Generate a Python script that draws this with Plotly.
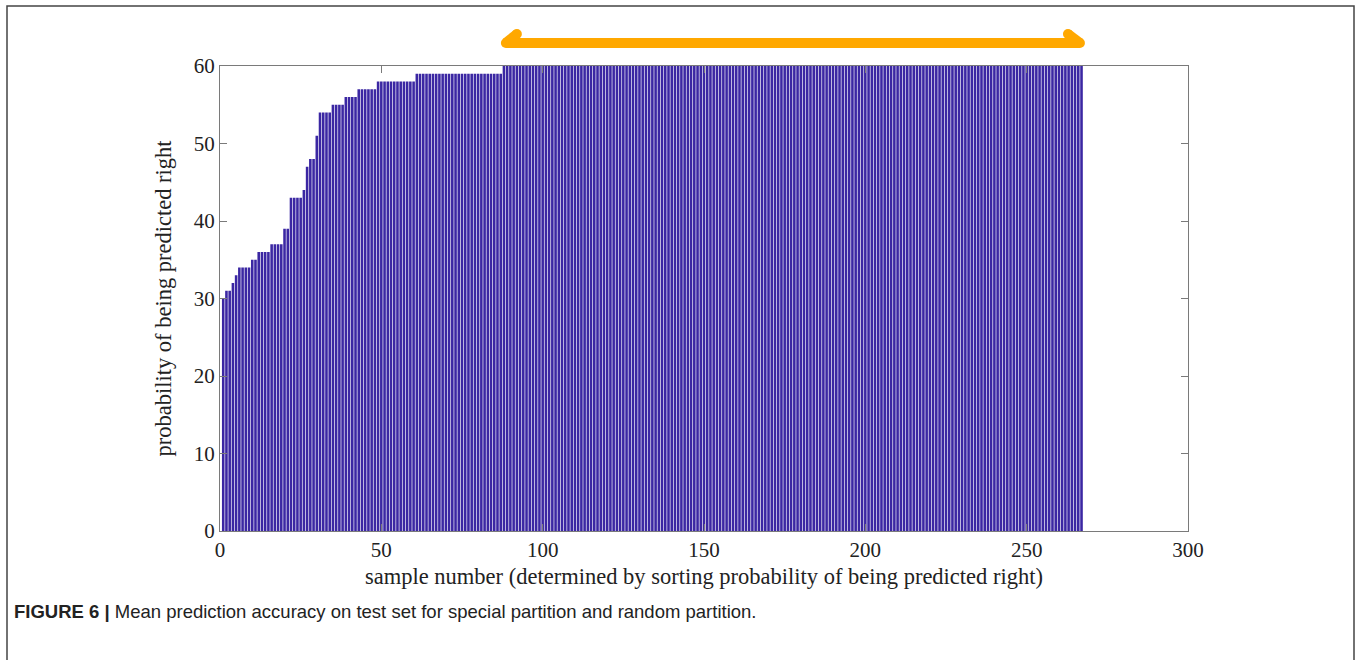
import plotly.graph_objects as go

# probability of being predicted right, per sorted sample
values = [
    30, 31, 31, 32, 33, 34, 34, 34, 34, 35, 35, 36, 36, 36, 36, 37, 37, 37, 37, 39,
    39, 43, 43, 43, 43, 44, 47, 48, 48, 51, 54, 54, 54, 54, 55, 55, 55, 55, 56, 56,
    56, 56, 57, 57, 57, 57, 57, 57, 58, 58, 58, 58, 58, 58, 58, 58, 58, 58, 58, 58,
    59, 59, 59, 59, 59, 59, 59, 59, 59, 59, 59, 59, 59, 59, 59, 59, 59, 59, 59, 59,
    59, 59, 59, 59, 59, 59, 59,
    60, 60, 60, 60, 60, 60, 60, 60, 60, 60, 60, 60, 60, 60, 60, 60, 60, 60, 60, 60,
    60, 60, 60, 60, 60, 60, 60, 60, 60, 60, 60, 60, 60, 60, 60, 60, 60, 60, 60, 60,
    60, 60, 60, 60, 60, 60, 60, 60, 60, 60, 60, 60, 60, 60, 60, 60, 60, 60, 60, 60,
    60, 60, 60, 60, 60, 60, 60, 60, 60, 60, 60, 60, 60, 60, 60, 60, 60, 60, 60, 60,
    60, 60, 60, 60, 60, 60, 60, 60, 60, 60, 60, 60, 60, 60, 60, 60, 60, 60, 60, 60,
    60, 60, 60, 60, 60, 60, 60, 60, 60, 60, 60, 60, 60, 60, 60, 60, 60, 60, 60, 60,
    60, 60, 60, 60, 60, 60, 60, 60, 60, 60, 60, 60, 60, 60, 60, 60, 60, 60, 60, 60,
    60, 60, 60, 60, 60, 60, 60, 60, 60, 60, 60, 60, 60, 60, 60, 60, 60, 60, 60, 60,
    60, 60, 60, 60, 60, 60, 60, 60, 60, 60, 60, 60, 60, 60, 60, 60, 60, 60, 60, 60,
]
samples = list(range(1, len(values) + 1))

x_ticks = [0, 50, 100, 150, 200, 250, 300]
y_ticks = [0, 10, 20, 30, 40, 50, 60]

x_title = "sample number (determined by sorting probability of being predicted right)"
y_title = "probability of being predicted right"
caption = "<b>FIGURE 6 |</b> Mean prediction accuracy on test set for special partition and random partition."

BAR = "#3b27a3"
ORANGE = "#FFA800"
AX = "#7a7a7a"

fig = go.Figure()
fig.add_trace(go.Bar(x=samples, y=values, marker=dict(color=BAR, line=dict(width=0)),
                     width=0.8, showlegend=False, hoverinfo="x+y"))

tick_font = dict(family="Liberation Serif, Times New Roman, serif", size=21, color="#222")
title_font = dict(family="Liberation Serif, Times New Roman, serif", size=22.5, color="#222")
fig.update_xaxes(range=[0, 300], tickvals=x_ticks, ticks="inside", ticklen=7, tickcolor=AX,
                 showline=True, linecolor=AX, linewidth=1.3, mirror="ticks", showgrid=False,
                 zeroline=False, tickfont=tick_font,
                 title=dict(text=x_title, font=title_font, standoff=6))
fig.update_yaxes(range=[0, 60], tickvals=y_ticks, ticks="inside", ticklen=7, tickcolor=AX,
                 showline=True, linecolor=AX, linewidth=1.3, mirror="ticks", showgrid=False,
                 zeroline=False, tickfont=tick_font,
                 title=dict(text=y_title, font=title_font, standoff=15))

# orange bracket above the samples that reach 60
first_full = samples[values.index(60)]
last_full = samples[len(values) - 1 - values[::-1].index(60)]
xl, xl_tip = first_full + 0.6, first_full + 4.0
xr, xr_tip = last_full - 0.5, last_full - 4.2
y_line, y_tip = 1.0495, 1.0688
segments = [((xl_tip, y_tip), (xl, y_line)), ((xl, y_line), (xr, y_line)), ((xr, y_line), (xr_tip, y_tip))]
for (x0, y0), (x1, y1) in segments:
    fig.add_shape(type="line", xref="x", yref="paper", x0=x0, y0=y0, x1=x1, y1=y1,
                  line=dict(color=ORANGE, width=10))
rx, ry = 1.55, 5 / 465
for cx, cy in [(xl, y_line), (xl_tip, y_tip), (xr, y_line), (xr_tip, y_tip)]:
    fig.add_shape(type="circle", xref="x", yref="paper", x0=cx - rx, x1=cx + rx,
                  y0=cy - ry, y1=cy + ry, fillcolor=ORANGE, line=dict(width=0))

# outer frame
fig.add_shape(type="rect", xref="paper", yref="paper",
              x0=(7 - 220) / 968, x1=(1354 - 220) / 968, y0=(531 - 700) / 465, y1=(531 - 6) / 465,
              line=dict(color="#444", width=1.5), fillcolor="rgba(0,0,0,0)", layer="below")

fig.add_annotation(text=caption, xref="paper", yref="paper",
                   x=(12 - 220) / 968, y=(531 - 611) / 465, xanchor="left", yanchor="middle",
                   showarrow=False, font=dict(family="Liberation Sans, Arial, sans-serif", size=18.5, color="#222"))

fig.update_layout(width=1360, height=660, margin=dict(l=220, r=172, t=66, b=129, autoexpand=False),
                  plot_bgcolor="white", paper_bgcolor="white", bargap=0.2)

fig.write_html("out.html")
